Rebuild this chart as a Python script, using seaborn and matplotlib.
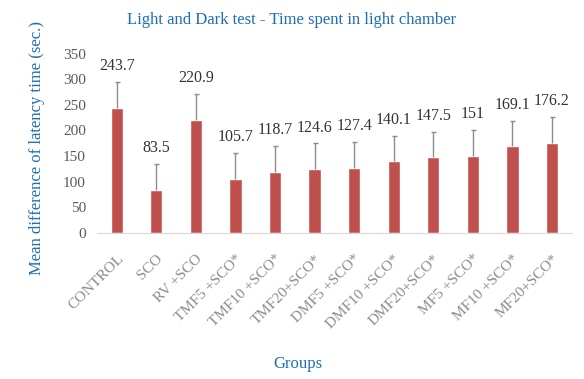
import numpy as np
import pandas as pd
import matplotlib
matplotlib.use("Agg")
import matplotlib.pyplot as plt
import seaborn as sns

# values
groups = ["CONTROL", "SCO", "RV +SCO", "TMF5 +SCO*", "TMF10 +SCO*", "TMF20+SCO*",
          "DMF5 +SCO*", "DMF10 +SCO*", "DMF20+SCO*", "MF5 +SCO*", "MF10 +SCO*", "MF20+SCO*"]
means = [243.7, 83.5, 220.9, 105.7, 118.7, 124.6, 127.4, 140.1, 147.5, 151, 169.1, 176.2]
errors = [52, 51, 50, 51, 51, 50, 50, 50, 50, 50, 50, 51]
labels = ["243.7", "83.5", "220.9", "105.7", "118.7", "124.6", "127.4", "140.1",
          "147.5", "151", "169.1", "176.2"]

df = pd.DataFrame({"group": groups, "mean": means, "err": errors})

sns.set_style("white")
plt.rcParams["font.family"] = ["Liberation Serif", "DejaVu Serif"]

blue = "#1F6EB5"
bar_red = "#C0504D"

fig = plt.figure(figsize=(5.84, 3.79), dpi=100)
ax = fig.add_axes([0.166, 0.386, 0.813, 0.472])

sns.barplot(data=df, x="group", y="mean", color=bar_red, width=0.31,
            saturation=1, errorbar=None, ax=ax)

# upper error bars only (hide the lower cap)
x = np.arange(len(groups))
eb = ax.errorbar(x, df["mean"], yerr=[np.zeros(len(groups)), df["err"]], fmt="none",
                 ecolor="#8C8C8C", elinewidth=1, capsize=1.8, capthick=1)
caps = eb.lines[1]
if len(caps) == 2:
    caps[0].set_visible(False)

# data labels
for xi, m, e, lab in zip(x, means, errors, labels):
    ax.text(xi, m + e + 31, lab, ha="center", va="center", fontsize=11.5, color="#333333")

ax.set_ylim(0, 350)
ax.set_yticks(range(0, 351, 50))
ax.set_xlim(-0.5, len(groups) - 0.5)

for s in ["top", "right", "left"]:
    ax.spines[s].set_visible(False)
ax.spines["bottom"].set_color("#D9D9D9")
ax.tick_params(axis="both", length=0)
ax.tick_params(axis="y", labelsize=11, labelcolor="#595959", pad=8)
ax.tick_params(axis="x", pad=14)
ax.set_xticks(x)
ax.set_xticklabels(groups, rotation=45, ha="right", rotation_mode="anchor",
                   fontsize=11, color="#8C8C8C")

ax.set_xlabel("Groups", color=blue, fontsize=12)
ax.xaxis.set_label_coords(0.423, -0.69)
ax.set_ylabel("Mean difference of latency time (sec.)", color=blue, fontsize=12)
ax.yaxis.set_label_coords(-0.109, 0.476)

fig.text(0.5, 1 - 20 / 379, "Light and Dark test - Time spent in light chamber",
         color=blue, fontsize=12, ha="center", va="center")

fig.savefig("out.png", dpi=100)
